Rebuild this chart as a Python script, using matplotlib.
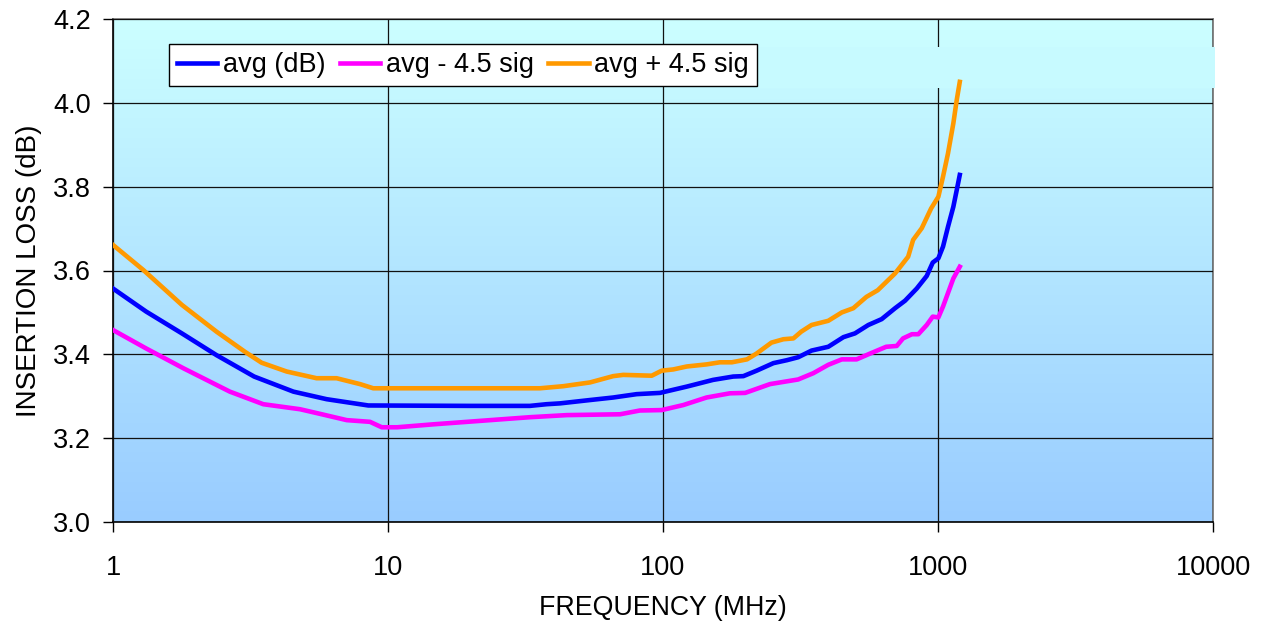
import numpy as np
import matplotlib
matplotlib.use("Agg")
import matplotlib.pyplot as plt
from matplotlib.patches import Rectangle

plt.rcParams['font.family'] = ['Liberation Sans', 'DejaVu Sans']

# insertion loss vs frequency, average and +/- 4.5 sigma bounds
freq_avg = [1, 1.32, 1.78, 2.38, 3.26, 4.53, 5.98, 8.48, 20, 32.8, 37.7, 42.2, 54.3,
            65.9, 80.2, 97.5, 122, 152, 180, 196, 219, 252, 282, 310, 347, 399, 453,
            499, 558, 624, 698, 759, 837, 910, 957, 1003, 1043, 1087, 1137, 1170, 1200]
loss_avg = [3.557, 3.502, 3.450, 3.398, 3.347, 3.311, 3.293, 3.278, 3.277, 3.277, 3.281,
            3.283, 3.291, 3.297, 3.305, 3.308, 3.323, 3.339, 3.347, 3.348, 3.361, 3.379,
            3.386, 3.393, 3.409, 3.418, 3.441, 3.450, 3.470, 3.484, 3.510, 3.528, 3.557,
            3.587, 3.619, 3.629, 3.657, 3.704, 3.752, 3.792, 3.828]

freq_minus = [1, 1.32, 1.80, 2.66, 3.52, 4.79, 5.66, 7.08, 8.60, 9.49, 10.8, 14.6, 23.5,
              32.8, 44.7, 69.8, 82.4, 98.9, 118.5, 144, 175, 199, 245, 310, 352, 399,
              447, 506, 567, 648, 708, 746, 804, 848, 910, 957, 1003, 1043, 1087, 1137,
              1200]
loss_minus = [3.458, 3.414, 3.367, 3.311, 3.281, 3.269, 3.258, 3.243, 3.239, 3.226, 3.226,
              3.233, 3.243, 3.250, 3.255, 3.257, 3.266, 3.267, 3.279, 3.297, 3.307, 3.308,
              3.329, 3.340, 3.355, 3.375, 3.388, 3.388, 3.402, 3.418, 3.420, 3.438, 3.448,
              3.448, 3.470, 3.490, 3.488, 3.514, 3.546, 3.581, 3.609]

freq_plus = [1, 1.29, 1.78, 2.38, 3.02, 3.47, 4.28, 5.50, 6.50, 7.91, 8.84, 35.7, 43.4,
             54.3, 65.9, 71.7, 91, 98.9, 109, 122, 144, 161, 178, 202, 219, 248, 274,
             298, 318, 347, 399, 447, 492, 549, 604, 698, 779, 812, 873, 944, 1003,
             1043, 1087, 1137, 1170, 1200]
loss_plus = [3.661, 3.601, 3.518, 3.454, 3.406, 3.380, 3.359, 3.343, 3.343, 3.329, 3.319,
             3.319, 3.324, 3.333, 3.348, 3.351, 3.349, 3.361, 3.364, 3.371, 3.376, 3.381,
             3.381, 3.388, 3.402, 3.428, 3.436, 3.438, 3.454, 3.470, 3.480, 3.500, 3.510,
             3.537, 3.553, 3.593, 3.633, 3.673, 3.701, 3.748, 3.776, 3.824, 3.879, 3.951,
             4.007, 4.050]

x_ticks = [1, 10, 100, 1000, 10000]
x_tick_labels = ['1', '10', '100', '1000', '10000']
y_ticks = [3.0, 3.2, 3.4, 3.6, 3.8, 4.0, 4.2]

fig = plt.figure(figsize=(12.65, 6.26), dpi=100)
ax = fig.add_axes([113 / 1265, 1 - 522 / 626, 1100 / 1265, 503 / 626])

# vertical gradient fill behind the plot
top_col = np.array([204, 255, 255]) / 255
bot_col = np.array([153, 204, 255]) / 255
t = np.linspace(0, 1, 256)[:, None]
grad = (top_col * (1 - t) + bot_col * t).reshape(256, 1, 3)
ax.imshow(grad, extent=[0, 1, 0, 1], transform=ax.transAxes, aspect='auto', zorder=0)

ax.plot(freq_avg, loss_avg, color='#0000FF', lw=3.3, label='avg (dB)', zorder=3)
ax.plot(freq_minus, loss_minus, color='#FF00FF', lw=3.3, label='avg - 4.5 sig', zorder=3)
ax.plot(freq_plus, loss_plus, color='#FF9900', lw=3.3, label='avg + 4.5 sig', zorder=3)

ax.set_xscale('log')
ax.set_xlim(1, 10000)
ax.set_ylim(3.0, 4.2)
ax.set_xticks(x_ticks)
ax.set_xticklabels(x_tick_labels)
ax.xaxis.set_minor_locator(matplotlib.ticker.NullLocator())
ax.set_yticks(y_ticks)
ax.yaxis.set_major_formatter(matplotlib.ticker.FormatStrFormatter('%.1f'))
ax.tick_params(axis='y', direction='out', length=7, width=1, pad=9, labelsize=19.5)
ax.tick_params(axis='x', direction='out', length=7, width=1, pad=17, labelsize=19.5)

ax.grid(True, which='major', color='#111111', lw=0.9)
ax.set_axisbelow(False)
for s in ['left', 'bottom']:
    ax.spines[s].set_color('black')
    ax.spines[s].set_linewidth(1.2)
for s in ['top', 'right']:
    ax.spines[s].set_color('#707070')
    ax.spines[s].set_linewidth(1.2)

ax.set_xlabel('FREQUENCY (MHz)', fontsize=19.3, labelpad=10)
ax.set_ylabel('INSERTION LOSS (dB)', fontsize=20, labelpad=8)

# blank strip beside the legend, over the grid but under the curves
strip_col = top_col * 0.9 + bot_col * 0.1
ax.add_patch(Rectangle((757 / 1265, 1 - 88 / 626), (1215 - 757) / 1265, 41 / 626,
                       transform=fig.transFigure, facecolor=strip_col,
                       edgecolor='none', zorder=2.7, clip_on=False))

leg = ax.legend(loc='upper left', bbox_to_anchor=(56 / 1100, 1 - 25 / 503), ncol=3,
                fontsize=19.5, frameon=True, fancybox=False, framealpha=1,
                edgecolor='black', handlelength=1.48, handletextpad=0.2,
                columnspacing=0.55, borderpad=0.3, borderaxespad=0)
leg.get_frame().set_linewidth(1.0)
leg.set_zorder(6)

fig.savefig('out.png', dpi=100)
